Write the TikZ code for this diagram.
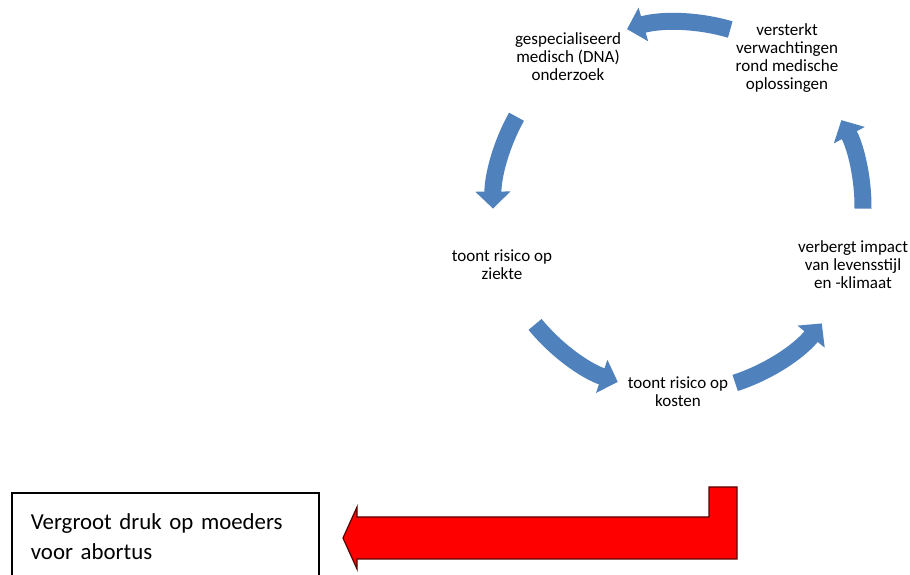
\documentclass[tikz,border=0pt]{standalone}
\usepackage{fontspec}
\setmainfont{Carlito}
\usetikzlibrary{arrows.meta}
\usepackage{xcolor}
\definecolor{cycleblue}{HTML}{4F81BD}
\definecolor{alarmred}{HTML}{FF0000}

\begin{document}
\begin{tikzpicture}[
    stage/.style={
        align=center,
        inner sep=0pt,
        font=\fontsize{4.85}{5.1}\selectfont,
    },
    turn/.style={
        draw=cycleblue,
        line width=0.17cm,
        -{Triangle[length=0.17cm, width=0.34cm]},
    },
]
\clip (0,0) rectangle (9.10,5.75);
\fill[white] (0,0) rectangle (9.10,5.75);

\coordinate (C) at (6.78, 3.68);

\node[stage] (dna)     at (5.68, 5.18) {gespecialiseerd\\medisch (DNA)\\onderzoek};
\node[stage] (ziekte)  at (5.02, 3.10) {toont risico op\\ziekte};
\node[stage] (kosten)  at (6.78, 1.83) {toont risico op\\kosten};
\node[stage] (impact)  at (8.53, 3.10) {verbergt impact\\van levensstijl\\en -klimaat};
\node[stage] (hoop)    at (7.87, 5.17) {versterkt\\verwachtingen\\rond medische\\oplossingen};

\draw[turn] ([shift={(73.6:1.85)}]C) arc[start angle=73.6, end angle=106, radius=1.85];
\draw[turn] ([shift={(150.8:1.85)}]C) arc[start angle=150.8, end angle=180.5, radius=1.85];
\draw[turn] ([shift={(219.4:1.85)}]C) arc[start angle=219.4, end angle=251, radius=1.85];
\draw[turn] ([shift={(288:1.85)}]C) arc[start angle=288, end angle=321, radius=1.85];
\draw[turn] ([shift={(-0.5:1.85)}]C) arc[start angle=-0.5, end angle=28, radius=1.85];

\node[draw=black, line width=0.5pt, anchor=north west, minimum width=3.07cm,
      minimum height=0.88cm, text width=2.69cm, align=left, inner xsep=0.19cm,
      font=\fontsize{6.5}{8.5}\selectfont] (abortus) at (0.11, 0.83)
      {Vergroot druk op moeders\\voor abortus};

\coordinate (tip) at (3.43, 0.37);
\draw[fill=alarmred, draw=red!35!black, line width=0.35pt, line join=miter]
    (7.09, 0.88) -- (7.37, 0.88) -- (7.37, 0.16) -- (3.57, 0.16) -- (3.57, 0.06)
    -- (tip) -- (3.57, 0.68) -- (3.57, 0.58) -- (7.09, 0.58) -- cycle;

\end{tikzpicture}
\end{document}
